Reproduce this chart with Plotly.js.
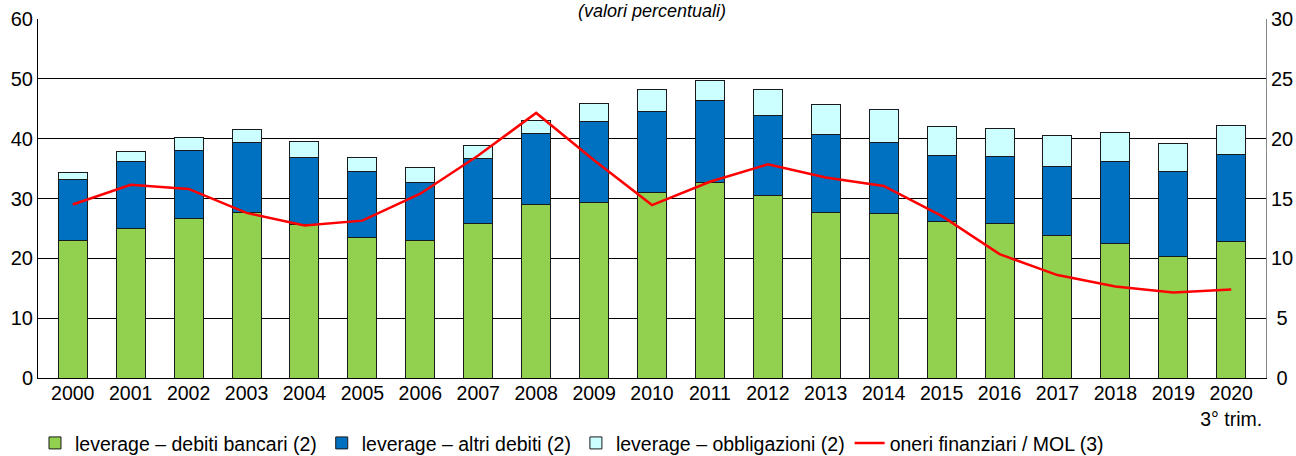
<!DOCTYPE html>
<html>
<head>
<meta charset="utf-8">
<script src="https://cdn.plot.ly/plotly-3.0.1.min.js"></script>
<style>
html,body{margin:0;padding:0;background:#fff;}
#chart{width:1296px;height:456px;}
</style>
</head>
<body>
<div id="chart"></div>
<script>
const categories = ["2000","2001","2002","2003","2004","2005","2006","2007","2008","2009","2010","2011","2012","2013","2014","2015","2016","2017","2018","2019","2020"];
const tickLabels = ["2000","2001","2002","2003","2004","2005","2006","2007","2008","2009","2010","2011","2012","2013","2014","2015","2016","2017","2018","2019","2020<br>3° trim."];
const rightTickVals = [0,5,10,15,20,25,30];
const rightTickText = ["\u00A00","\u00A05","10","15","20","25","30"];
const debitiBancari = [23.05,25.05,26.65,27.6,25.65,23.5,23.05,25.8,29.0,29.3,31.05,32.6,30.5,27.7,27.55,26.15,25.8,23.8,22.5,20.3,22.8];
const altriDebiti   = [10.15,11.15,11.35,11.7,11.25,11.0,9.65,10.9,11.8,13.5,13.55,13.7,13.3,13.0,11.85,11.05,11.2,11.5,13.7,14.2,14.5];
const obbligazioni  = [1.1,1.6,2.2,2.3,2.7,2.4,2.4,2.2,2.2,3.0,3.6,3.35,4.5,5.0,5.4,4.9,4.7,5.3,4.9,4.7,4.9];
const oneriMol      = [14.5,16.15,15.8,13.8,12.75,13.15,15.4,18.6,22.15,18.2,14.45,16.4,17.85,16.75,16.05,13.55,10.35,8.6,7.65,7.15,7.4];
const seriesNames = ["leverage – debiti bancari (2)","leverage – altri debiti (2)","leverage – obbligazioni (2)","oneri finanziari / MOL (3)"];
const titleText = "(valori percentuali)";

const FONT = "Liberation Sans, Arial, sans-serif";
const barLine = {color:"#1a1a1a", width:1};

const traces = [
  {type:"bar", name:seriesNames[0], x:categories, y:debitiBancari, marker:{color:"#92D050", line:barLine}},
  {type:"bar", name:seriesNames[1], x:categories, y:altriDebiti, marker:{color:"#0070C0", line:barLine}},
  {type:"bar", name:seriesNames[2], x:categories, y:obbligazioni, marker:{color:"#CCFFFF", line:barLine}},
  {type:"scatter", mode:"lines", name:seriesNames[3], x:categories, y:oneriMol, yaxis:"y2", line:{color:"#FF0000", width:2.5}}
];

const layout = {
  width:1296, height:456,
  margin:{l:38, r:30, t:19, b:78, autoexpand:false},
  paper_bgcolor:"#fff", plot_bgcolor:"#fff",
  barmode:"stack", bargap:0.5,
  font:{family:FONT, size:20, color:"#000"},
  showlegend:true,
  legend:{orientation:"h", xref:"container", yref:"container", x:0.027, xanchor:"left", y:0.028, yanchor:"middle", font:{size:19.5}, traceorder:"normal", itemclick:false, bgcolor:"rgba(0,0,0,0)", itemwidth:30},
  xaxis:{type:"category", range:[-0.6,20.6], tickvals:categories, ticktext:tickLabels, showgrid:false, showline:true, linecolor:"#000", linewidth:1, ticks:"", tickfont:{size:19.5}, ticklabelstandoff:-2, zeroline:false, fixedrange:true, automargin:false},
  yaxis:{range:[0,60], dtick:10, showgrid:true, gridcolor:"#000", gridwidth:1, showline:true, linecolor:"#000", linewidth:1, ticks:"", tickfont:{size:20}, zeroline:false, fixedrange:true, automargin:false},
  yaxis2:{range:[0,30], tickmode:"array", tickvals:rightTickVals, ticktext:rightTickText, overlaying:"y", side:"right", showgrid:false, showline:true, linecolor:"#888", linewidth:1, ticks:"", tickfont:{size:20}, zeroline:false, fixedrange:true, automargin:false},
  annotations:[{text:titleText, xref:"paper", yref:"paper", x:0.5, y:1.053, xanchor:"center", yanchor:"top", borderpad:0, showarrow:false, font:{family:FONT, size:18, color:"#000", style:"italic"}}]
};

Plotly.newPlot("chart", traces, layout, {displayModeBar:false, staticPlot:true});
</script>
</body>
</html>
